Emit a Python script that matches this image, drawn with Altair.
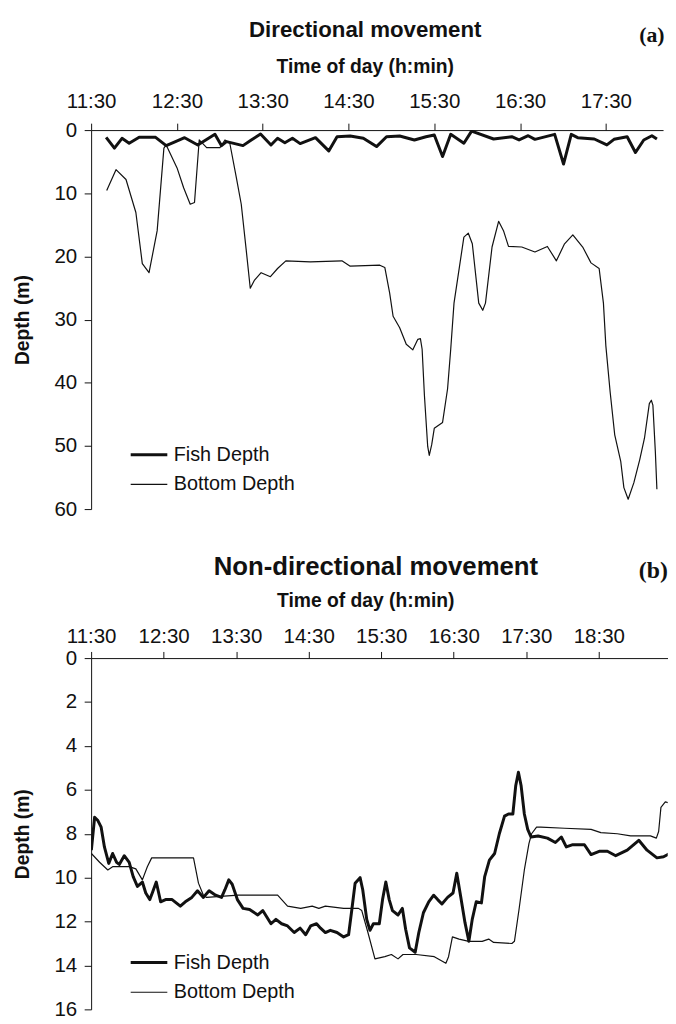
import altair as alt
import pandas as pd

FONT = "Liberation Sans"
SERIF = "Liberation Serif"
INK = "#111111"

SERIES = ["Fish Depth", "Bottom Depth"]
X_TITLE = "Time of day (h:min)"
Y_TITLE = "Depth (m)"

# ---------------- Panel (a): directional movement ----------------
A_TITLE = "Directional movement"
A_TAG = "(a)"
# minutes after 11:30
A_FISH_T = [10.5, 16.3, 21.6, 26.6, 33.6, 45.1, 52.5, 59.0, 65.4, 74.6, 86.6, 91.2, 94.7,
            106.2, 112.0, 118.5, 125.8, 130.4, 135.5, 140.8, 146.2, 156.9, 166.2, 172.0,
            181.2, 190.4, 199.6, 206.6, 215.8, 226.1, 234.2, 240.0, 245.8, 251.5, 260.7,
            266.1, 281.5, 294.2, 299.3, 305.7, 310.4, 324.2, 330.4, 335.8, 340.3, 351.9,
            360.7, 365.7, 374.9, 380.7, 386.5, 392.2, 395.7]
A_FISH_D = [1.14, 2.86, 1.30, 2.08, 1.14, 1.14, 2.46, 1.83, 1.20, 2.35, 0.67, 2.46, 1.83,
            2.46, 1.56, 0.63, 2.35, 1.30, 1.99, 1.30, 2.14, 1.20, 3.29, 1.05,
            0.94, 1.30, 2.61, 1.05, 0.94, 1.56, 1.05, 0.78, 4.18, 0.67, 2.08,
            0.16, 1.41, 1.05, 1.56, 0.89, 1.46, 0.67, 5.37, 0.67, 1.20, 1.41,
            2.35, 1.46, 1.05, 3.55, 1.56, 0.89, 1.41]
A_BOTTOM_T = [10.9, 17.4, 24.4, 31.3, 35.8, 40.5, 46.2, 50.9, 52.5, 60.1, 64.7, 69.3, 72.3,
              75.6, 80.8, 90.1, 93.6, 97.0, 101.6, 105.0, 108.5, 111.3, 114.3, 118.9, 125.4,
              130.4, 136.2, 153.3, 175.4, 181.2, 201.9, 205.4, 208.8, 211.2, 215.8, 220.4,
              225.0, 228.5, 230.3, 231.5, 233.1, 235.4, 236.5, 238.2, 240.0, 245.8, 249.3,
              251.5, 253.8, 260.7, 263.8, 266.6, 271.1, 273.9, 275.8, 280.4, 285.0, 288.4,
              291.9, 301.2, 310.4, 319.1, 325.4, 331.1, 336.9, 343.8, 349.6, 355.3, 358.3,
              360.0, 363.0, 366.2, 370.4, 372.6, 375.6, 379.6, 383.7, 387.0, 390.4, 391.8,
              392.9, 394.6, 395.7]
A_BOTTOM_D = [9.55, 6.26, 7.82, 13.04, 21.13, 22.58, 15.92, 2.86, 2.35, 5.99, 9.12, 11.74, 11.47,
              1.56, 2.77, 2.77, 1.56, 2.08, 7.56, 11.74, 19.05, 25.04, 23.74, 22.58, 23.21,
              21.91, 20.70, 20.86, 20.70, 21.55, 21.39, 21.75, 25.82, 29.47, 31.30, 33.91,
              34.79, 33.13, 33.02, 34.70, 41.99, 50.08, 51.49, 49.81, 47.21, 46.28, 40.95,
              34.70, 27.39, 16.95, 16.32, 18.00, 27.39, 28.53, 27.39, 18.51, 14.44, 15.92,
              18.42, 18.51, 19.30, 18.42, 20.70, 18.00, 16.59, 18.51, 21.02, 21.91, 27.39,
              34.16, 41.47, 48.25, 52.43, 56.60, 58.44, 55.82, 52.16, 48.78, 43.30, 42.77,
              43.55, 50.86, 56.85]
A_X_TICKS = [0, 60, 120, 180, 240, 300, 360]
A_X_LABELS = ["11:30", "12:30", "13:30", "14:30", "15:30", "16:30", "17:30"]
A_Y_TICKS = [0, 10, 20, 30, 40, 50, 60]

# ---------------- Panel (b): non-directional movement ----------------
B_TITLE = "Non-directional movement"
B_TAG = "(b)"
B_FISH_T = [0.2, 2.9, 5.6, 8.3, 11.0, 14.6, 17.8, 21.1, 23.3, 27.4, 31.5, 34.8, 38.3, 42.4,
            45.2, 48.5, 50.6, 53.9, 57.5, 61.6, 67.0, 73.8, 77.9, 83.3, 88.0, 92.9, 97.6,
            103.0, 107.9, 110.7, 113.9, 116.7, 121.0, 125.7, 131.1, 137.9, 142.0, 148.8,
            152.9, 157.6, 162.5, 168.0, 172.9, 177.5, 181.6, 186.5, 189.8, 193.8, 197.9,
            203.4, 208.9, 213.0, 215.7, 218.4, 222.5, 224.7, 228.0, 230.7, 233.5, 238.4,
            241.1, 243.8, 246.6, 249.3, 253.9, 257.5, 260.2, 263.4, 268.1, 271.1, 274.9,
            279.3, 283.4, 286.7, 290.2, 294.9, 299.4, 302.5, 305.7, 309.3, 312.5, 315.3,
            318.6, 322.9, 325.6, 329.5, 333.8, 337.7, 342.0, 345.3, 348.9, 351.3, 353.5,
            355.7, 358.4, 361.2, 363.9, 369.8, 377.5, 384.1, 389.0, 393.1, 398.5, 408.1,
            413.6, 420.3, 427.1, 434.0, 443.5, 453.1, 459.9, 468.1, 473.6, 478.5]
B_FISH_D = [8.75, 7.25, 7.4, 7.7, 8.6, 9.35, 8.9, 9.3, 9.4, 9.0, 9.3, 9.95, 10.4, 10.2,
            10.7, 11.0, 10.7, 10.2, 11.1, 11.0, 11.0, 11.3, 11.1, 10.9, 10.6, 10.9, 10.6,
            10.8, 10.9, 10.55, 10.1, 10.3, 11.0, 11.4, 11.45, 11.7, 11.5, 12.1,
            11.9, 12.1, 12.2, 12.5, 12.3, 12.6, 12.2, 12.1, 12.3, 12.5, 12.4,
            12.5, 12.7, 12.6, 11.45, 10.25, 10.0, 10.55, 11.9, 12.4, 12.1, 12.1,
            11.0, 10.2, 11.0, 11.5, 11.7, 11.4, 12.35, 13.2, 13.4, 12.5, 11.6,
            11.1, 10.8, 11.0, 11.2, 10.9, 10.7, 9.8, 10.85, 12.05, 12.9, 11.9,
            11.1, 11.15, 9.95, 9.2, 8.9, 8.0, 7.2, 7.1, 7.1, 5.8, 5.2,
            5.8, 7.1, 7.8, 8.15, 8.1, 8.2, 8.4, 8.15, 8.6, 8.5, 8.5,
            8.95, 8.8, 8.8, 9.0, 8.75, 8.3, 8.75, 9.1, 9.05, 8.9]
B_BOTTOM_T = [0.2, 7.0, 13.8, 17.8, 31.5, 37.0, 42.4, 46.5, 50.1, 82.0, 84.7, 88.8, 92.9,
              95.6, 121.6, 151.6, 154.3, 162.5, 173.4, 182.9, 188.4, 193.8, 208.9, 221.2,
              223.9, 229.0, 234.8, 243.0, 248.4, 253.9, 258.0, 268.9, 283.9, 293.5, 295.7,
              298.9, 304.4, 312.5, 323.5, 328.9, 333.0, 348.1, 350.2, 354.0, 358.4, 362.2,
              364.4, 368.5, 372.0, 391.7, 413.6, 421.7, 435.3, 446.3, 462.7, 467.6, 469.5,
              471.4, 475.0, 478.5]
B_BOTTOM_D = [8.9, 9.3, 9.65, 9.5, 9.5, 9.6, 10.1, 9.5, 9.1, 9.1, 9.1, 10.25, 10.8,
              10.9, 10.8, 10.8, 10.8, 11.3, 11.4, 11.3, 11.4, 11.3, 11.4, 11.4,
              11.5, 12.5, 13.7, 13.6, 13.5, 13.7, 13.5, 13.5, 13.6, 13.9, 13.6,
              12.7, 12.8, 12.9, 12.9, 12.8, 12.95, 13.0, 12.9, 11.45, 9.65, 8.45,
              8.0, 7.7, 7.7, 7.75, 7.8, 7.95, 8.0, 8.1, 8.1, 8.2, 7.9,
              6.8, 6.55, 6.6]
B_X_TICKS = [0, 60, 120, 180, 240, 300, 360, 420]
B_X_LABELS = ["11:30", "12:30", "13:30", "14:30", "15:30", "16:30", "17:30", "18:30"]
B_Y_TICKS = [0, 2, 4, 6, 8, 10, 12, 14, 16]


def frame(fish_t, fish_d, bot_t, bot_d):
    return pd.DataFrame({
        "t": fish_t + bot_t,
        "d": fish_d + bot_d,
        "series": [SERIES[0]] * len(fish_t) + [SERIES[1]] * len(bot_t),
    })


def label_expr(ticks, labels):
    arr = "[" + ",".join("'%s'" % s for s in labels) + "]"
    tks = "[" + ",".join(str(v) for v in ticks) + "]"
    return "%s[indexof(%s, datum.value)]" % (arr, tks)


def text_layer(text, x, y, size, font, weight, align="center"):
    return alt.Chart(pd.DataFrame({"txt": [text]})).mark_text(
        font=font, fontSize=size, fontWeight=weight, color=INK,
        align=align, baseline="alphabetic"
    ).encode(x=alt.value(x), y=alt.value(y), text="txt:N")


def panel(df, xmax, width, ymax, height, xticks, xlabels, yticks, xlabel_pad,
          xtick_size, leg_x, leg_y, title, title_size, title_x, title_y,
          tag, tag_size, tag_x, tag_y, xt_x, xt_y):
    x = alt.X("t:Q",
              scale=alt.Scale(domain=[0, xmax], nice=False, zero=False),
              axis=alt.Axis(orient="top", values=xticks,
                            labelExpr=label_expr(xticks, xlabels), title=None,
                            grid=False, labelFont=FONT, labelFontSize=20.7,
                            labelColor=INK, labelPadding=xlabel_pad,
                            tickSize=xtick_size, tickColor=INK, tickWidth=1,
                            domainColor=INK, domainWidth=1, labelFlush=False,
                            labelOverlap=False))
    y = alt.Y("d:Q",
              scale=alt.Scale(domain=[0, ymax], reverse=True, nice=False, zero=False),
              axis=alt.Axis(values=yticks, title=Y_TITLE, titleFont=FONT,
                            titleFontSize=19.5, titleFontWeight="bold",
                            titleColor=INK, titlePadding=22, grid=False,
                            labelFont=FONT, labelFontSize=20.7, labelColor=INK,
                            labelPadding=7.5, tickSize=7, tickColor=INK,
                            tickWidth=1, domainColor=INK, domainWidth=1,
                            labelFlush=False, labelOverlap=False))
    lines = alt.Chart(df).mark_line(color=INK, clip=True, strokeJoin="round").encode(
        x=x, y=y,
        strokeWidth=alt.StrokeWidth(
            "series:N",
            scale=alt.Scale(domain=SERIES, range=[3.0, 1.2]),
            legend=alt.Legend(orient="none", legendX=leg_x, legendY=leg_y,
                              title=None, symbolType="stroke", symbolSize=1369,
                              symbolStrokeColor=INK, labelFont=FONT,
                              labelFontSize=20, labelColor=INK, labelOffset=5,
                              rowPadding=10, padding=0, clipHeight=20,
                              symbolOffset=0)),
    )
    return alt.layer(
        lines,
        text_layer(title, title_x, title_y, title_size, FONT, "bold"),
        text_layer(tag, tag_x, tag_y, tag_size, SERIF, "bold", align="right"),
        text_layer(X_TITLE, xt_x, xt_y, 19.5, FONT, "bold"),
    ).properties(width=width, height=height)


panel_a = panel(frame(A_FISH_T, A_FISH_D, A_BOTTOM_T, A_BOTTOM_D),
                xmax=400, width=578, ymax=60, height=383,
                xticks=A_X_TICKS, xlabels=A_X_LABELS, yticks=A_Y_TICKS,
                xlabel_pad=12, xtick_size=7, leg_x=38.5, leg_y=318,
                title=A_TITLE, title_size=22.5, title_x=277, title_y=-94.3,
                tag=A_TAG, tag_size=22, tag_x=579.5, tag_y=-89,
                xt_x=277, xt_y=-57.7)

panel_b = panel(frame(B_FISH_T, B_FISH_D, B_BOTTOM_T, B_BOTTOM_D),
                xmax=477, width=582.7, ymax=16, height=355,
                xticks=B_X_TICKS, xlabels=B_X_LABELS, yticks=B_Y_TICKS,
                xlabel_pad=5, xtick_size=6.7, leg_x=38.5, leg_y=297.7,
                title=B_TITLE, title_size=26, title_x=287.8, title_y=-84,
                tag=B_TAG, tag_size=24, tag_x=582.8, tag_y=-80.7,
                xt_x=277.5, xt_y=-51.7)

chart = alt.vconcat(panel_a, panel_b, spacing=35.6).resolve_scale(
    strokeWidth="independent", x="independent", y="independent"
).resolve_legend(
    strokeWidth="independent"
).properties(
    padding={"left": 4, "top": 5, "right": 0, "bottom": 0}
).configure_view(stroke=None)

chart.save("out.html", embed_options={"renderer": "svg", "actions": False})
